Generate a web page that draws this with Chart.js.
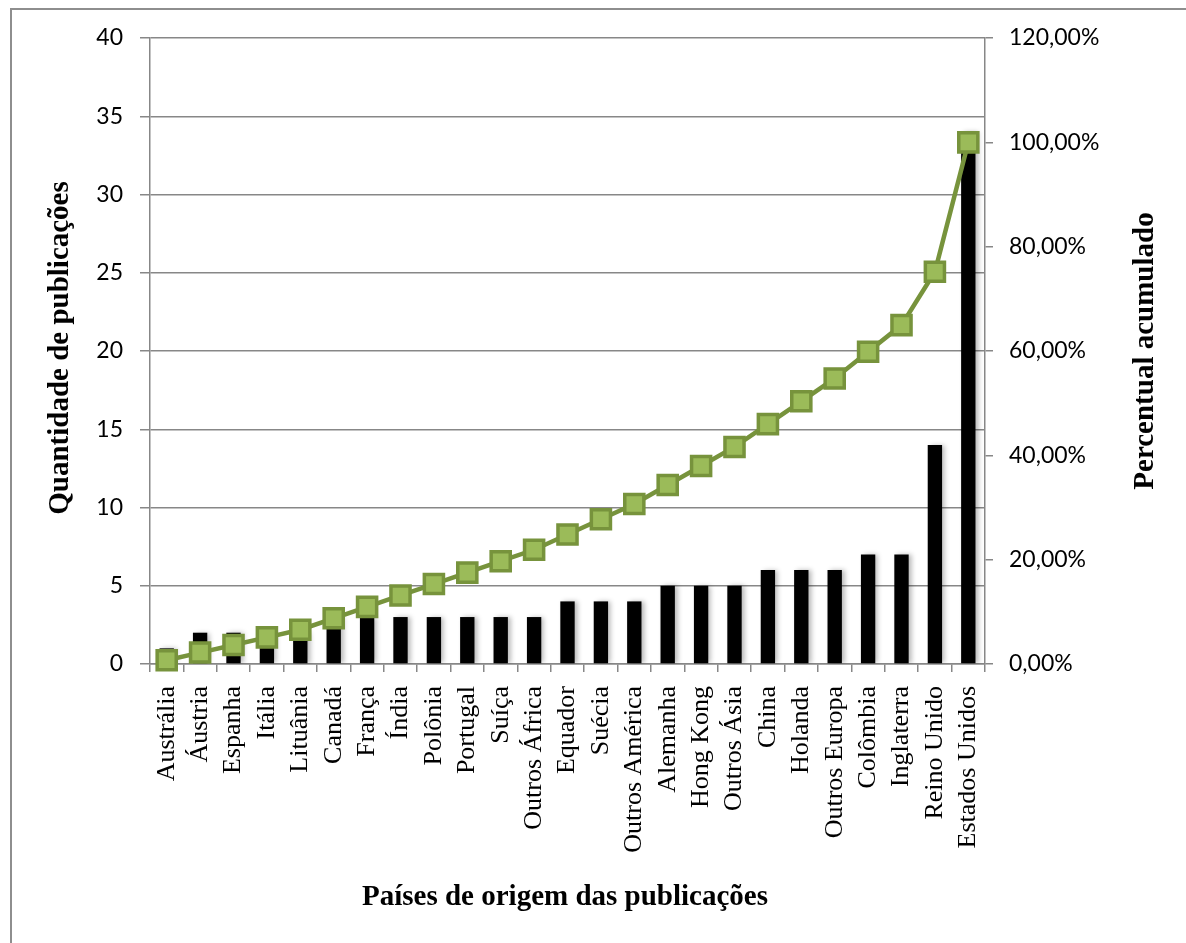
<!DOCTYPE html>
<html>
<head>
<meta charset="utf-8">
<script src="https://cdn.jsdelivr.net/npm/chart.js@4/dist/chart.umd.min.js"></script>
<style>
    html, body { margin: 0; padding: 0; background: #fff; overflow: hidden; }
    #frame {
        position: absolute; left: 10px; top: 8px; width: 1300px; height: 1100px;
        border-top: 2px solid #8e8e8e; border-left: 2px solid #8e8e8e;
    }
    #wrap { position: absolute; left: 0; top: 0; width: 1186px; height: 943px; }
</style>
</head>
<body>
<div id="frame"></div>
<div id="wrap"><canvas id="pareto-chart" width="1186" height="943"></canvas></div>
<script>
    const countries = [
        'Austrália', 'Áustria', 'Espanha', 'Itália', 'Lituânia', 'Canadá', 'França',
        'Índia', 'Polônia', 'Portugal', 'Suíça', 'Outros África', 'Equador', 'Suécia',
        'Outros América', 'Alemanha', 'Hong Kong', 'Outros Ásia', 'China', 'Holanda',
        'Outros Europa', 'Colômbia', 'Inglaterra', 'Reino Unido', 'Estados Unidos'
    ];
    const publications = [1, 2, 2, 2, 2, 3, 3, 3, 3, 3, 3, 3, 4, 4, 4, 5, 5, 5, 6, 6, 6, 7, 7, 14, 34];
    const cumulativePercent = [
        0.73, 2.19, 3.65, 5.11, 6.57, 8.76, 10.95, 13.14, 15.33, 17.52, 19.71, 21.90, 24.82,
        27.74, 30.66, 34.31, 37.96, 41.61, 45.99, 50.36, 54.74, 59.85, 64.96, 75.18, 100
    ];
    const countTicks = { min: 0, max: 40, step: 5 };
    const percentTicks = { min: 0, max: 120, step: 20 };

    const TITLE_LEFT = 'Quantidade de publicações';
    const TITLE_RIGHT = 'Percentual acumulado';
    const TITLE_BOTTOM = 'Países de origem das publicações';

    const COLORS = {
        grid: '#878787',
        bar: '#000000',
        line: '#77933C',
        marker: '#9BBB59',
        text: '#000000',
    };

    const SANS = 'Lato, "Open Sans", sans-serif';
    const SERIF = '"Liberation Serif", "DejaVu Serif", serif';

    // chart area: left 150, right 985, top 38, bottom 664
    const fixWidth = (w) => (scale) => { scale.width = w; };
    const fixHeight = (h) => (scale) => { scale.height = h; };

    const formatPercent = (v) => v.toFixed(2).replace('.', ',') + '%';

    const barShadow = {
        id: 'barShadow',
        beforeDatasetDraw(chart, args) {
            if (args.index !== 1) return;
            const ctx = chart.ctx;
            ctx.save();
            ctx.shadowColor = 'rgba(0,0,0,0.28)';
            ctx.shadowOffsetX = 3;
            ctx.shadowOffsetY = 0;
            ctx.shadowBlur = 5;
        },
        afterDatasetDraw(chart, args) {
            if (args.index !== 1) return;
            chart.ctx.restore();
        }
    };

    const axisTitles = {
        id: 'axisTitles',
        afterDraw(chart) {
            const ctx = chart.ctx;
            const area = chart.chartArea;
            const midY = (area.top + area.bottom) / 2;
            ctx.save();
            ctx.fillStyle = COLORS.text;
            ctx.font = `bold 29px ${SERIF}`;
            ctx.textAlign = 'center';
            ctx.textBaseline = 'middle';

            ctx.save();
            ctx.translate(61, midY - 3);
            ctx.rotate(-Math.PI / 2);
            ctx.fillText(TITLE_LEFT, 0, 0);
            ctx.restore();

            ctx.save();
            ctx.translate(1146, midY);
            ctx.rotate(-Math.PI / 2);
            ctx.fillText(TITLE_RIGHT, 0, 0);
            ctx.restore();

            ctx.fillText(TITLE_BOTTOM, 565, 898);
            ctx.restore();
        }
    };

    const ctx = document.getElementById('pareto-chart');

    new Chart(ctx, {
        data: {
            labels: countries,
            datasets: [
                {
                    type: 'line',
                    label: 'Percentual acumulado',
                    data: cumulativePercent,
                    yAxisID: 'y1',
                    borderColor: COLORS.line,
                    borderWidth: 4.5,
                    pointStyle: 'rect',
                    pointRadius: 13.5,
                    pointBorderWidth: 3.5,
                    pointBackgroundColor: COLORS.marker,
                    pointBorderColor: COLORS.line,
                    tension: 0,
                    clip: false,
                    order: 0
                },
                {
                    type: 'bar',
                    label: 'Quantidade de publicações',
                    data: publications,
                    yAxisID: 'y',
                    backgroundColor: COLORS.bar,
                    barPercentage: 0.43,
                    categoryPercentage: 1,
                    order: 1
                }
            ]
        },
        plugins: [barShadow, axisTitles],
        options: {
            responsive: false,
            animation: false,
            layout: { padding: { top: 38, left: 0, right: 0, bottom: 0 } },
            plugins: {
                legend: { display: false },
                tooltip: { enabled: false }
            },
            scales: {
                x: {
                    type: 'category',
                    offset: true,
                    afterFit: fixHeight(943 - 664),
                    border: { color: COLORS.grid, width: 1.5 },
                    grid: {
                        offset: true,
                        drawOnChartArea: false,
                        drawTicks: true,
                        tickLength: 8,
                        color: COLORS.grid,
                        lineWidth: 1.5
                    },
                    ticks: {
                        autoSkip: false,
                        minRotation: 90,
                        maxRotation: 90,
                        padding: 14,
                        color: COLORS.text,
                        font: { family: SERIF, size: 26 }
                    }
                },
                y: {
                    position: 'left',
                    min: countTicks.min,
                    max: countTicks.max,
                    afterFit: fixWidth(150),
                    border: { color: COLORS.grid, width: 1.5 },
                    grid: {
                        color: COLORS.grid,
                        lineWidth: 1.5,
                        tickLength: 10
                    },
                    ticks: {
                        stepSize: countTicks.step,
                        padding: 17,
                        color: COLORS.text,
                        font: { family: SANS, size: 23 }
                    }
                },
                y1: {
                    position: 'right',
                    min: percentTicks.min,
                    max: percentTicks.max,
                    afterFit: fixWidth(1186 - 985),
                    border: { color: COLORS.grid, width: 1.5 },
                    grid: {
                        drawOnChartArea: false,
                        color: COLORS.grid,
                        lineWidth: 1.5,
                        tickLength: 8
                    },
                    ticks: {
                        stepSize: percentTicks.step,
                        padding: 16,
                        color: COLORS.text,
                        font: { family: SANS, size: 23 },
                        callback: (v) => formatPercent(v)
                    }
                }
            }
        }
    });
</script>
</body>
</html>
